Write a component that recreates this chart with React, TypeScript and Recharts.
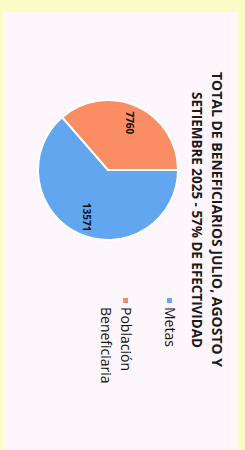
import { PieChart, Pie, Cell, Legend } from "recharts";

// --- Data ---
const categories = ["Metas", "Población Beneficiaria"];
const values = [13571, 7760];
const COLORS = ["#62a6ef", "#fa8d63"];
const titleLines = [
  "TOTAL DE BENEFICIARIOS JULIO, AGOSTO Y",
  "SETIEMBRE 2025 - 57% DE EFECTIVIDAD",
];

const data = categories.map((name, i) => ({ name, value: values[i] }));

// chart is drawn upright in a 438x235 frame, then turned 90deg like the source scan
const FRAME_W = 438;
const FRAME_H = 235;
const RADIAN = Math.PI / 180;

// title line placement (start, length, baseline) in the upright frame
const TITLE_POS = [
  { x: 60, len: 295, y: 26 },
  { x: 80, len: 256, y: 46 },
];

const renderLabel = (props: any) => {
  const { cx, cy, midAngle, outerRadius, value } = props;
  const r = outerRadius * 0.74;
  const x = cx + r * Math.cos(-midAngle * RADIAN);
  const y = cy + r * Math.sin(-midAngle * RADIAN);
  return (
    <text
      x={x}
      y={y}
      fill="#111"
      textAnchor="middle"
      dominantBaseline="central"
      fontSize={10}
      fontWeight={700}
      fontFamily="'Open Sans', sans-serif"
    >
      {value}
    </text>
  );
};

const renderLegend = (props: any) => {
  const { payload } = props;
  return (
    <div style={{ fontFamily: "'Open Sans', sans-serif" }}>
      {payload.map((entry: any, i: number) => (
        <div
          key={`leg-${i}`}
          style={{
            display: "flex",
            alignItems: "flex-start",
            marginBottom: 24,
          }}
        >
          <span
            style={{
              width: 5,
              height: 5,
              marginTop: 8,
              marginRight: 4,
              background: entry.color,
              flexShrink: 0,
            }}
          />
          <span
            style={{
              fontSize: 14,
              lineHeight: "20px",
              color: "#111",
              fontWeight: 500,
              width: 80,
            }}
          >
            {entry.value}
          </span>
        </div>
      ))}
    </div>
  );
};

export default function App() {
  return (
    <div
      style={{
        position: "fixed",
        left: 0,
        top: 0,
        width: 245,
        height: 450,
        background: "#fafcc6",
        overflow: "hidden",
      }}
    >
      <div
        style={{
          position: "absolute",
          left: 3,
          top: 12,
          width: FRAME_H,
          height: 438,
          background: "#fdf7fd",
          overflow: "hidden",
        }}
      >
        <div
          style={{
            position: "absolute",
            left: 0,
            top: 0,
            width: FRAME_W,
            height: FRAME_H,
            transformOrigin: "0 0",
            transform: `translate(${FRAME_H}px, 0) rotate(90deg)`,
          }}
        >
          <svg
            width={FRAME_W}
            height={60}
            style={{ position: "absolute", left: 0, top: 0 }}
          >
            {titleLines.map((line, i) => (
              <text
                key={`t-${i}`}
                x={TITLE_POS[i].x}
                y={TITLE_POS[i].y}
                textAnchor="start"
                fontFamily="'Open Sans', sans-serif"
                fontWeight={700}
                fontSize={14}
                fill="#1a1a1a"
                textLength={TITLE_POS[i].len}
                lengthAdjust="spacingAndGlyphs"
              >
                {line}
              </text>
            ))}
          </svg>
          <PieChart
            width={FRAME_W}
            height={FRAME_H}
            margin={{ top: 0, right: 0, bottom: 0, left: 0 }}
          >
            <Pie
              data={data}
              dataKey="value"
              nameKey="name"
              cx={158}
              cy={130}
              outerRadius={70}
              startAngle={90}
              endAngle={-270}
              stroke="#ffffff"
              strokeWidth={2}
              label={renderLabel}
              labelLine={false}
              isAnimationActive={false}
            >
              {data.map((entry, index) => (
                <Cell key={`cell-${entry.name}`} fill={COLORS[index]} />
              ))}
            </Pie>
            <Legend
              layout="vertical"
              verticalAlign="top"
              align="right"
              content={renderLegend}
              wrapperStyle={{ left: 286, right: "auto", top: 58, width: 100 }}
            />
          </PieChart>
        </div>
      </div>
    </div>
  );
}
